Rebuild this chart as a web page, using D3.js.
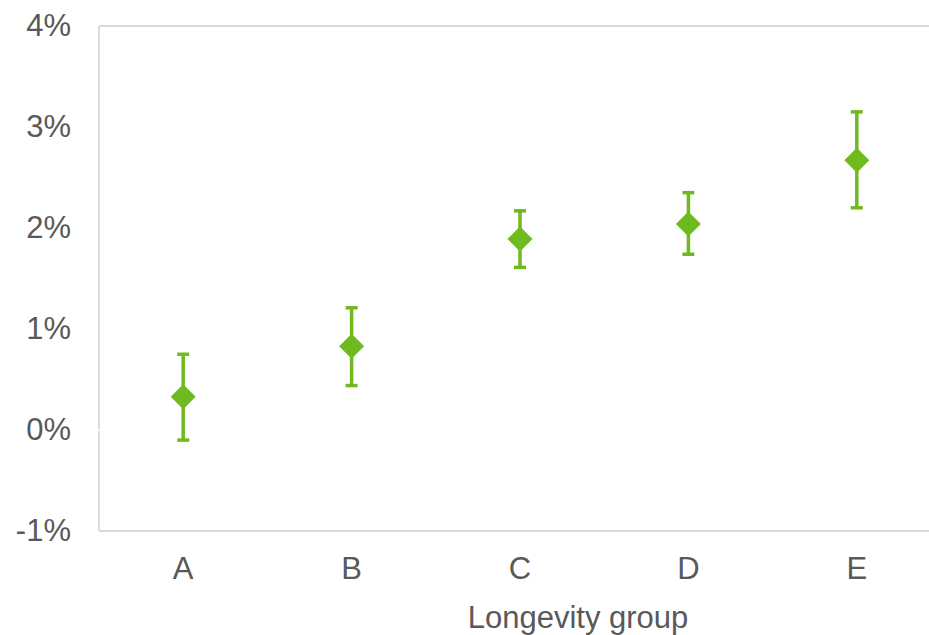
<!DOCTYPE html>
<html>
<head>
<meta charset="utf-8">
<script src="https://cdn.jsdelivr.net/npm/d3@7"></script>
<style>
  html, body { margin: 0; padding: 0; background: #fff; }
  svg { display: block; font-family: "Liberation Sans", Arial, sans-serif; }
</style>
</head>
<body>
<svg id="chart" width="929" height="635"></svg>
<script>
// Longevity groups and their estimates with lower / upper bounds (fractions)
const categories = ["A", "B", "C", "D", "E"];
const estimates  = [0.0033, 0.0083, 0.0189, 0.0204, 0.0267];
const lowerBound = [-0.0010, 0.0044, 0.0161, 0.0174, 0.0220];
const upperBound = [0.0075, 0.0121, 0.0217, 0.0235, 0.0315];
const yTicks     = [-0.01, 0, 0.01, 0.02, 0.03, 0.04];
const xTitle     = "Longevity group";

const svg = d3.select("#chart");
const green = "#6FBA1E";
const textColor = "#595959";
const axisColor = "#D9D9D9";
const fontSize = 31;
const fontFamily = "'Liberation Sans', Arial, sans-serif";

const plotLeft = 99, plotRight = 941, plotTop = 26, plotBottom = 531;

const x = d3.scaleBand().domain(categories).range([plotLeft, plotRight]).padding(0);
const y = d3.scaleLinear().domain([-0.01, 0.04]).range([plotBottom, plotTop]);

// Frame lines: left axis, top and bottom edges
svg.append("line").attr("x1", plotLeft).attr("x2", plotLeft).attr("y1", plotTop).attr("y2", plotBottom)
  .attr("stroke", axisColor).attr("stroke-width", 1.8);
svg.append("line").attr("x1", plotLeft).attr("x2", 929).attr("y1", plotTop).attr("y2", plotTop)
  .attr("stroke", axisColor).attr("stroke-width", 1.8);
svg.append("line").attr("x1", plotLeft).attr("x2", 929).attr("y1", plotBottom).attr("y2", plotBottom)
  .attr("stroke", axisColor).attr("stroke-width", 1.8);
// small notch where the zero line meets the axis
svg.append("line").attr("x1", plotLeft - 1).attr("x2", plotLeft + 1.5).attr("y1", y(0)).attr("y2", y(0))
  .attr("stroke", "#fff").attr("stroke-width", 1.5);

// Y axis labels (plain hyphen for negatives)
const pct = d3.format(".0%");
const yAxis = d3.axisLeft(y).tickValues(yTicks).tickSize(0).tickPadding(28)
  .tickFormat(d => pct(d).replace("\u2212", "-"));
const gy = svg.append("g").attr("transform", `translate(${plotLeft},0)`).call(yAxis);
gy.select(".domain").remove();
gy.selectAll("text").attr("fill", textColor).attr("font-size", fontSize)
  .attr("font-family", fontFamily);

// X axis labels
const xAxis = d3.axisBottom(x).tickSize(0).tickPadding(26);
const gx = svg.append("g").attr("transform", `translate(0,${plotBottom})`).call(xAxis);
gx.select(".domain").remove();
gx.selectAll("text").attr("fill", textColor).attr("font-size", fontSize)
  .attr("font-family", fontFamily);

// X axis title
svg.append("text").attr("x", 578).attr("y", 628).attr("text-anchor", "middle")
  .attr("fill", textColor).attr("font-size", fontSize).attr("font-family", fontFamily)
  .text(xTitle);

// Error bars
const rows = categories.map((c, i) => ({ c, v: estimates[i], lo: lowerBound[i], hi: upperBound[i] }));
const cx = d => x(d.c) + x.bandwidth() / 2;
const capHalf = 6;

const bars = svg.append("g").attr("stroke", green).attr("stroke-width", 3.5);
bars.selectAll("line.stem").data(rows).join("line").attr("class", "stem")
  .attr("x1", cx).attr("x2", cx).attr("y1", d => y(d.lo)).attr("y2", d => y(d.hi));
bars.selectAll("line.capHi").data(rows).join("line").attr("class", "capHi")
  .attr("x1", d => cx(d) - capHalf).attr("x2", d => cx(d) + capHalf)
  .attr("y1", d => y(d.hi)).attr("y2", d => y(d.hi));
bars.selectAll("line.capLo").data(rows).join("line").attr("class", "capLo")
  .attr("x1", d => cx(d) - capHalf).attr("x2", d => cx(d) + capHalf)
  .attr("y1", d => y(d.lo)).attr("y2", d => y(d.lo));

// Diamond markers
const half = 12.5;
svg.append("g").selectAll("path").data(rows).join("path")
  .attr("transform", d => `translate(${cx(d)},${y(d.v)})`)
  .attr("d", `M0,${-half}L${half},0L0,${half}L${-half},0Z`)
  .attr("fill", green);
</script>
</body>
</html>
